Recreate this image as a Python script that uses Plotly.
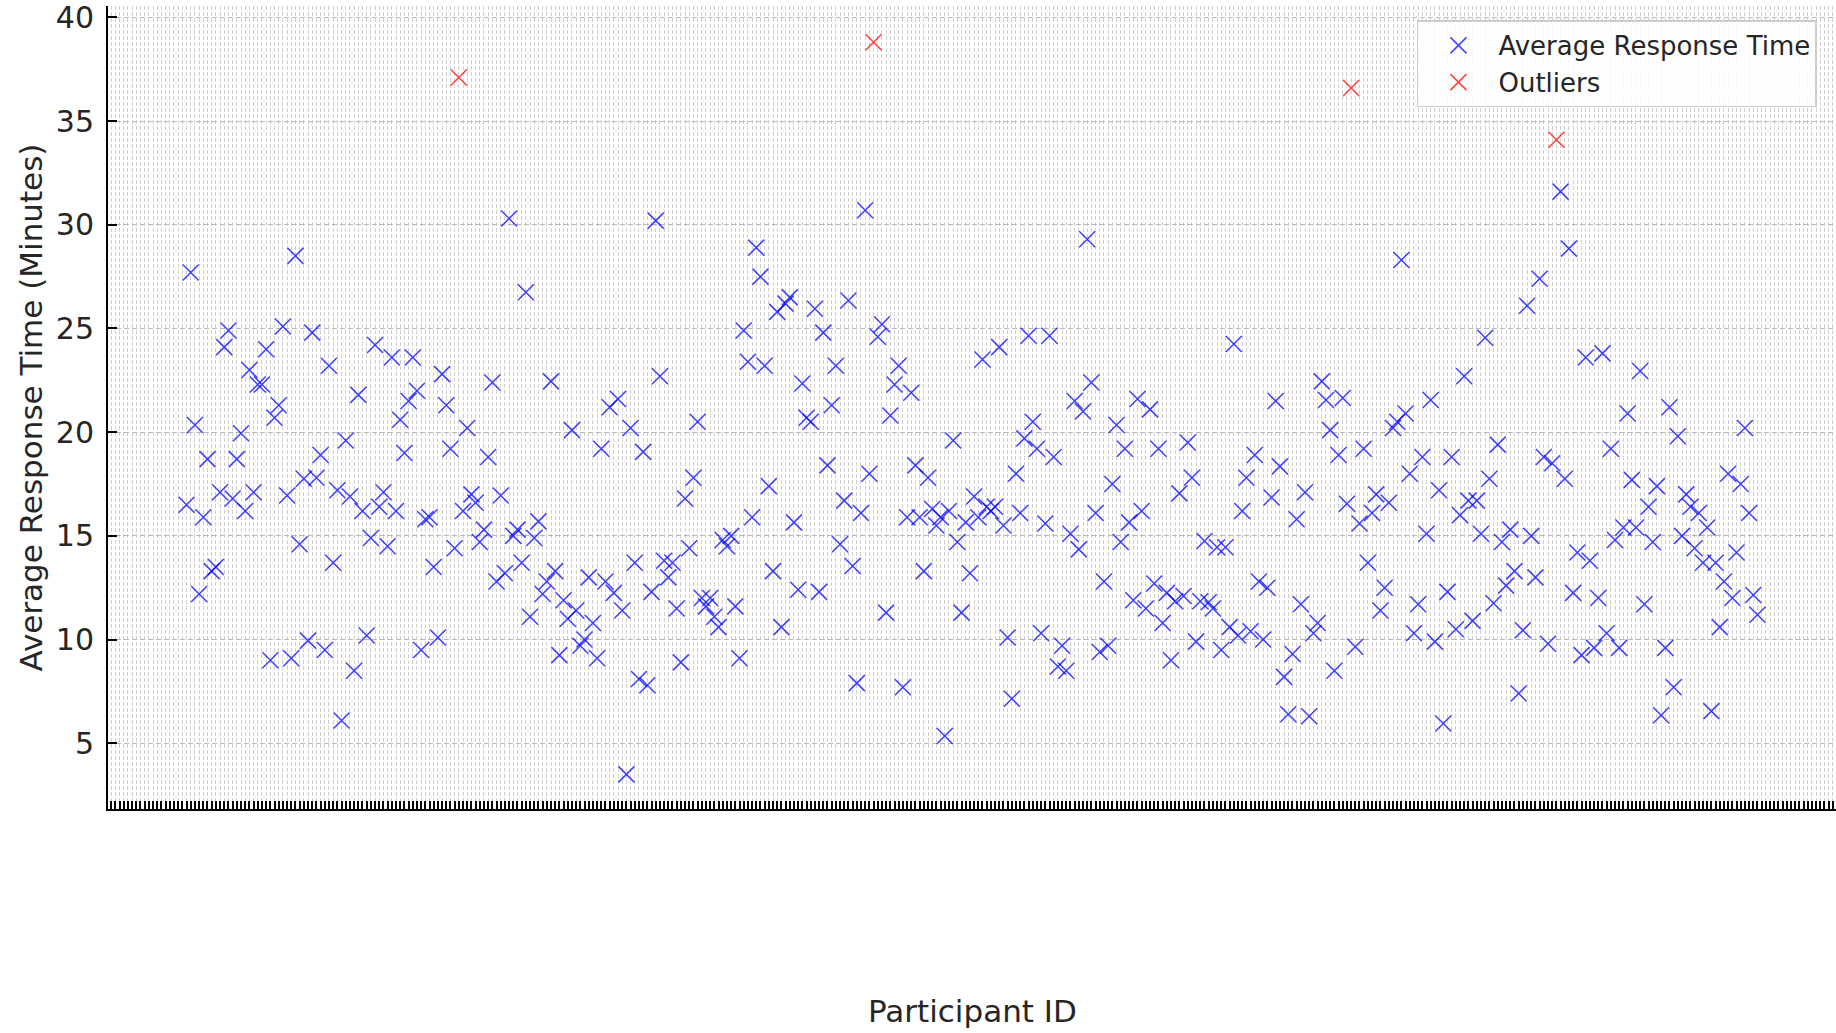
import plotly.graph_objects as go

# Average response time (minutes) per participant, read left to right
times_part1 = [16.5, 27.7, 20.35, 12.2, 15.9, 18.7, 13.3, 13.5, 17.1, 24.1, 24.9, 16.8, 18.7, 19.95,
               16.2, 23.0, 17.1, 22.3, 22.3, 24.0, 9.0, 20.7, 21.3, 25.1, 16.95, 9.1, 28.5, 14.6,
               17.75, 9.95, 24.8, 17.8, 18.9, 9.5, 23.2, 13.7, 17.2, 6.1, 19.6, 16.9]
times_part2 = [8.5, 21.8, 16.2, 10.2, 14.9, 24.2, 16.4, 17.1, 14.5, 23.6, 16.2, 20.6, 19.0, 21.5,
               23.6, 22.0, 9.5, 15.8, 15.9, 13.5, 10.1, 22.8, 21.3, 19.2, 14.4, 37.1, 16.2, 20.2,
               17.0, 16.6, 14.7, 15.3, 18.8, 22.4, 12.8, 16.95, 13.2, 30.3, 15.0, 15.3, 13.7, 26.75,
               11.1, 14.9, 15.7, 12.2, 12.8, 22.45, 13.3, 9.25, 11.9, 11.0, 20.1, 11.4, 9.7, 10.0]
times_part3 = [13.0, 10.8, 9.1, 19.2, 12.8, 21.2, 12.25, 21.6, 11.4, 3.5, 20.2, 13.7, 8.1, 19.05,
               7.8, 12.3, 30.2, 22.7, 13.8, 13.0, 13.7, 11.5, 8.9, 16.8, 14.4, 17.8, 20.5, 12.0,
               11.6, 12.0, 11.1, 10.6, 14.8, 14.5, 15.0, 11.6, 9.1, 24.9, 23.4, 15.9, 28.9, 27.5,
               23.2, 17.4, 13.3, 25.8, 10.6, 26.2, 26.5, 15.65, 12.4, 22.35, 20.7, 20.5, 25.95]
times_part4 = [12.3, 24.8, 18.4, 21.3, 23.2, 14.6, 16.7, 26.35, 13.55, 7.9, 16.1, 30.7, 18.0, 38.8,
               24.6, 25.2, 11.3, 20.8, 22.3, 23.2, 7.7, 15.9, 21.9, 18.4, 15.9, 13.3, 17.8, 16.3,
               15.5, 15.9, 5.35, 16.2, 19.6, 14.7, 11.3, 15.65, 13.2, 16.9, 15.9, 23.5, 16.4, 16.2,
               16.4, 24.1, 15.5, 10.1, 7.15, 18.0, 16.1, 19.7, 24.65, 20.5, 19.2, 10.3, 15.6, 24.65]
times_part5 = [18.8, 8.7, 9.7, 8.5, 15.1, 21.5, 14.35, 21.0, 29.3, 22.4, 16.1, 9.4, 12.8, 9.7,
               17.5, 20.35, 14.7, 19.2, 15.65, 11.9, 21.6, 16.2, 11.5, 21.1, 12.7, 19.2, 10.8, 12.25,
               9.0, 11.85, 17.05, 12.1, 19.5, 17.8, 9.9, 11.85, 14.75, 11.8, 11.5, 14.45, 9.5, 14.45,
               10.6, 24.25, 10.2, 16.2, 17.8, 10.4, 18.9, 12.8, 10.0, 12.5, 16.85, 21.5, 18.35, 8.2, 6.4]
times_part6 = [9.3, 15.8, 11.7, 17.1, 6.3, 10.3, 10.8, 22.45, 21.55, 20.1, 8.5, 18.9, 21.65, 16.55,
               36.6, 9.65, 15.6, 19.2, 13.7, 16.1, 17.0, 11.4, 12.5, 16.6, 20.2, 20.5, 28.3, 20.9,
               18.0, 10.3, 11.7, 18.8, 15.1, 21.55, 9.9, 17.2, 5.95, 12.3, 18.8, 10.5, 16.0, 22.7,
               16.7, 10.9, 16.7, 15.1, 24.55, 17.75, 11.75, 19.4, 14.7, 12.6, 15.3, 13.3, 7.4, 10.45]
times_part7 = [26.1, 15.0, 13.0, 27.4, 18.8, 9.8, 18.5, 34.1, 31.6, 17.75, 28.85, 12.25, 14.2, 9.25,
               23.6, 13.8, 9.6, 12.0, 23.8, 10.3, 19.2, 14.8, 9.6, 15.4, 20.9, 17.7, 15.4, 22.95,
               11.7, 16.4, 14.7, 17.4, 6.35, 9.6, 21.2, 7.7, 19.8, 15.0, 17.0, 16.4, 14.4, 16.1,
               13.7, 15.4, 6.55, 13.7, 10.6, 12.8, 18.0, 12.0, 14.2, 17.5, 20.2, 16.1, 12.15, 11.2]

response_times = (times_part1 + times_part2 + times_part3 + times_part4 +
                  times_part5 + times_part6 + times_part7)
participant_ids = list(range(len(response_times)))
outlier_ids = [65, 164, 278, 327]

normal_x = [p for p in participant_ids if p not in outlier_ids]
normal_y = [response_times[p] for p in normal_x]
outlier_y = [response_times[p] for p in outlier_ids]

y_ticks = [5, 10, 15, 20, 25, 30, 35, 40]

n = len(response_times)
FONT = "DejaVu Sans"

fig = go.Figure()
fig.add_trace(go.Scatter(
    x=normal_x, y=normal_y, mode="markers", name="Average Response Time",
    marker=dict(symbol="x-thin", size=16, color="rgba(0,0,255,0.75)",
                line=dict(width=1.5, color="rgba(0,0,255,0.75)")),
))
fig.add_trace(go.Scatter(
    x=outlier_ids, y=outlier_y, mode="markers", name="Outliers",
    marker=dict(symbol="x-thin", size=16, color="rgba(255,0,0,0.75)",
                line=dict(width=1.5, color="rgba(255,0,0,0.75)")),
))

fig.update_layout(
    width=1836, height=1033,
    margin=dict(l=108, r=0, t=6, b=224),
    paper_bgcolor="white", plot_bgcolor="white",
    font=dict(family=FONT, color="#262626"),
    showlegend=True,
    legend=dict(
        x=0.7575, y=0.982, xanchor="left", yanchor="top",
        bgcolor="rgba(255,255,255,0.85)", bordercolor="#cccccc", borderwidth=1.5,
        font=dict(family=FONT, size=26, color="#262626"),
        itemwidth=70,
    ),
    xaxis=dict(
        range=[-0.05 * (n - 1), 1.05 * (n - 1)],
        tick0=0, dtick=1,
        showticklabels=False,
        ticks="inside", ticklen=8, tickwidth=1.5, tickcolor="#000000",
        showgrid=True, gridcolor="rgba(176,176,176,0.6)", gridwidth=1, griddash="4px,2px",
        showline=True, linecolor="#000000", linewidth=2,
        zeroline=False,
    ),
    yaxis=dict(
        range=[1.83, 40.55],
        tickvals=y_ticks,
        ticks="inside", ticklen=9, tickwidth=1.5, tickcolor="#000000",
        tickfont=dict(family=FONT, size=30, color="#262626"),
        ticklabeloverflow="allow",
        ticklabelstandoff=6,
        showgrid=True, gridcolor="rgba(176,176,176,0.9)", gridwidth=1, griddash="5px,3px",
        showline=True, linecolor="#000000", linewidth=2,
        zeroline=False,
    ),
    annotations=[
        dict(text="Participant ID", xref="paper", yref="paper", x=0.5, y=-0.252,
             xanchor="center", yanchor="middle", showarrow=False,
             font=dict(family=FONT, size=31, color="#262626")),
        dict(text="Average Response Time (Minutes)", xref="paper", yref="paper",
             x=-0.0446, y=0.5, xanchor="center", yanchor="middle", textangle=-90,
             showarrow=False, font=dict(family=FONT, size=31, color="#262626")),
    ],
)

fig.write_html("out.html")
